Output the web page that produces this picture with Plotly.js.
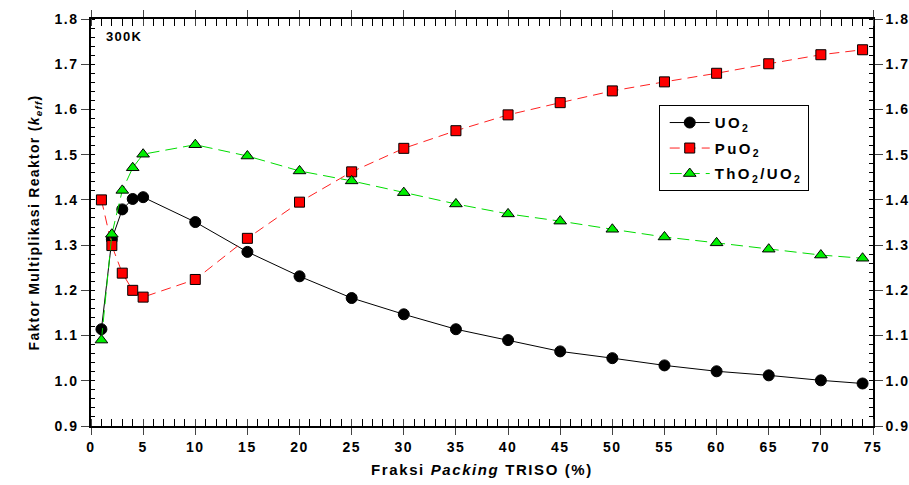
<!DOCTYPE html>
<html><head><meta charset="utf-8">
<script src="https://cdn.plot.ly/plotly-3.0.1.min.js"></script>
<style>body{margin:0;background:#fff}#c{width:909px;height:485px}
#c .xtick text,#c .ytick text,#c .y2tick text{letter-spacing:1.5px}
text.xtitle{letter-spacing:1.6px}
text.ytitle,text.annotation-text{letter-spacing:1.3px}
text.legendtext{letter-spacing:2.4px}
</style>
</head><body><div id="c"></div>
<script>
const packing = [1,2,3,4,5,10,15,20,25,30,35,40,45,50,55,60,65,70,74];
const uo2  = [1.114,1.313,1.379,1.402,1.406,1.351,1.285,1.231,1.183,1.147,1.114,1.090,1.065,1.050,1.034,1.021,1.012,1.001,0.994];
const puo2 = [1.400,1.299,1.238,1.200,1.185,1.224,1.315,1.395,1.462,1.514,1.553,1.588,1.615,1.641,1.661,1.680,1.701,1.721,1.732];
const tho2 = [1.090,1.324,1.421,1.471,1.501,1.522,1.497,1.464,1.442,1.416,1.391,1.369,1.353,1.335,1.318,1.305,1.291,1.278,1.271];
const names = ['UO<sub>2</sub>','PuO<sub>2</sub>','ThO<sub>2</sub>/UO<sub>2</sub>'];
const xTicks = [0,5,10,15,20,25,30,35,40,45,50,55,60,65,70,75];
const yTicks = [0.9,1.0,1.1,1.2,1.3,1.4,1.5,1.6,1.7,1.8];

const F = 'Liberation Sans, Arial, sans-serif';
const traces = [
 {x:packing,y:uo2,name:names[0],legendgroup:'a',mode:'lines+markers',line:{color:'black',width:1},
  marker:{symbol:'circle',size:11,color:'black',line:{color:'black',width:1}}},
 {x:packing,y:puo2,name:names[1],legendgroup:'b',mode:'lines+markers',line:{color:'#ff2020',width:1,dash:'10px,6px'},
  marker:{symbol:'square',size:10,color:'#ff0000',line:{color:'black',width:1}}},
 {x:packing,y:tho2,name:names[2],legendgroup:'c',mode:'lines+markers',line:{color:'#00dd00',width:1,dash:'12px,6px'},
  marker:{symbol:'triangle-up',size:11,color:'#00ee00',line:{color:'black',width:1}}},
 {x:packing,y:uo2,yaxis:'y2',mode:'none',showlegend:false,hoverinfo:'skip'}
];
const yax = {range:[0.9,1.8],tickvals:yTicks,ticktext:yTicks.map(v=>v.toFixed(1)),ticks:'outside',ticklen:8,tickwidth:1,
  showgrid:false,zeroline:false,showline:true,linecolor:'black',linewidth:1.5,
  tickfont:{family:F,size:14,color:'black',weight:'bold'},
  minor:{dtick:0.02,ticks:'inside',ticklen:4,tickcolor:'black',showgrid:false}};
const layout = {
 width:909,height:485,margin:{l:91,r:36,t:19,b:59},paper_bgcolor:'white',plot_bgcolor:'white',
 font:{family:F,color:'black'},
 xaxis:{range:[0,75],tickvals:xTicks,ticks:'outside',ticklen:7,tickwidth:1,showgrid:false,zeroline:false,
   showline:true,linecolor:'black',linewidth:1.5,mirror:'allticks',
   tickfont:{family:F,size:14,color:'black',weight:'bold'},
   minor:{dtick:1,ticks:'inside',ticklen:4,tickcolor:'black',showgrid:false},
   title:{text:'Fraksi <i>Packing</i> TRISO (%)',font:{family:F,size:15,weight:'bold'},standoff:11}},
 yaxis:Object.assign({},yax,{title:{text:'Faktor Multiplikasi Reaktor (<i>k</i><sub><i>eff</i></sub>)',font:{family:F,size:14,weight:'bold'},standoff:16}}),
 yaxis2:Object.assign({},yax,{overlaying:'y',side:'right',anchor:'x'}),
 showlegend:true,
 legend:{x:0.726,y:0.788,xanchor:'left',yanchor:'top',bordercolor:'black',borderwidth:1,bgcolor:'white',
   font:{family:F,size:15,weight:'bold'},tracegroupgap:3,itemwidth:40,indentation:5},
 annotations:[{text:'300K',x:0.016,y:0.957,xref:'paper',yref:'paper',xanchor:'left',yanchor:'middle',showarrow:false,
   font:{family:F,size:13,weight:'bold'}}]
};
Plotly.newPlot('c',traces,layout,{displayModeBar:false});
</script></body></html>
